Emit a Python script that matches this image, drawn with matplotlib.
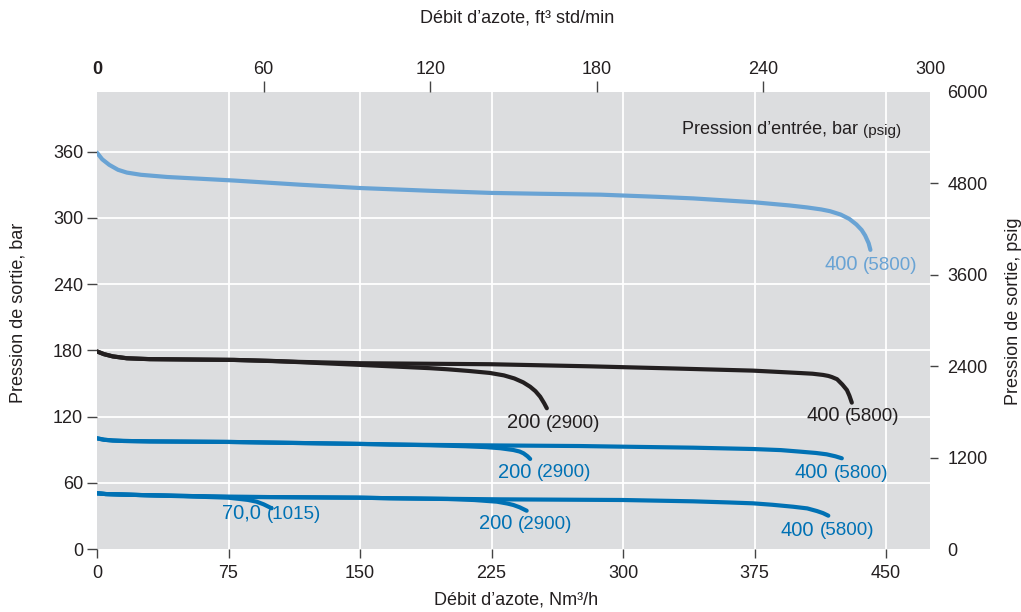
import matplotlib.pyplot as plt

plt.rcParams['font.family'] = ['Liberation Sans', 'DejaVu Sans']

# Outlet pressure (bar) vs nitrogen flow (Nm3/h), one curve per inlet pressure

# set 1: outlet ~360 bar, inlet 400 bar
lb400_x = [0, 3, 7, 12, 17, 25, 40, 78, 116, 150, 190, 224, 253, 287, 320, 340, 374,
           395, 405, 413, 418, 424, 429, 433, 436, 438, 440, 441]
lb400_y = [359, 353, 348, 343.5, 341, 339, 337, 333.8, 330, 327, 324.5, 322.6, 321.8,
           321, 319, 317.6, 314.2, 311.2, 309.4, 307.6, 306, 303, 299, 294, 289,
           284, 277, 271]

# set 2: outlet ~180 bar, inlet 400 and 200 bar
k400_x = [0, 4, 9, 17, 30, 78, 116, 150, 224, 281, 330, 374, 400, 408, 414, 417,
          419, 422, 425, 427.6, 429, 430.4]
k400_y = [179, 176.5, 174.5, 172.8, 172, 171.3, 169.5, 168.3, 167.4, 165.5, 163.5,
          161.6, 159.5, 158.8, 157.7, 156.8, 155.8, 153.8, 149, 144, 139, 132.6]
k200_x = [0, 4, 9, 17, 30, 78, 100, 150, 190, 200, 212, 224, 232, 238, 243, 247,
          250, 252.7, 255, 256.5]
k200_y = [179, 176.5, 174.5, 172.8, 172, 171.3, 170.4, 166.8, 163.8, 162.8, 161.3,
          159.5, 157.3, 154.5, 151, 147, 143, 138, 132, 127.5]

# set 3: outlet ~100 bar, inlet 400 and 200 bar
b100_400_x = [0, 4, 9, 15, 30, 75, 150, 167, 230, 275, 300, 340, 374, 390, 401,
              410, 416, 421, 424.7]
b100_400_y = [100.3, 99, 98.3, 97.9, 97.5, 97, 95.2, 94.6, 93.8, 93.3, 92.7, 91.8,
              90.6, 89.6, 88.2, 87, 85.8, 84, 82.2]
b100_200_x = [0, 4, 9, 15, 30, 75, 150, 161, 190, 210, 222, 230, 237.4, 241, 243.2,
              245.5, 247]
b100_200_y = [100.3, 99, 98.3, 97.9, 97.5, 97, 95.2, 95, 94, 93.1, 92.3, 91.3, 89.7,
              88.3, 86.7, 84, 81.6]

# set 4: outlet ~50 bar, inlet 400, 200 and 70 bar
b50_400_x = [0, 5, 24.5, 75, 150, 167, 230, 300, 340, 360, 374, 385, 397, 405,
             410.5, 414, 417]
b50_400_y = [50.5, 49.8, 48.9, 47.3, 46.5, 46, 45, 44.4, 43.2, 42.2, 41.4, 40.1,
             38.3, 36.8, 34.4, 32.5, 30.2]
b50_200_x = [0, 5, 24.5, 75, 150, 167, 200, 215, 228, 234, 237.4, 241, 245]
b50_200_y = [50.5, 49.8, 48.9, 47.3, 46.5, 46, 45.3, 44.4, 42.9, 41.2, 39.9, 37.8, 34.7]
b50_70_x = [0, 5, 24.5, 60, 75, 81.6, 86, 91, 95, 99.6]
b50_70_y = [50.5, 49.8, 48.9, 47.3, 46.5, 45.3, 44.5, 42.9, 40.5, 36.9]

# inlet pressure labels: bar (psig)
lab_bar = ['400', '400', '200', '200', '400', '70,0', '200', '400']
lab_psig = ['(5800)', '(5800)', '(2900)', '(2900)', '(5800)', '(1015)', '(2900)', '(5800)']

x_ticks = [0, 75, 150, 225, 300, 375, 450]
y_ticks = [0, 60, 120, 180, 240, 300, 360]
top_ticks = [0, 60, 120, 180, 240, 300]
right_ticks = [0, 1200, 2400, 3600, 4800, 6000]

LIGHT = '#69a3d4'
BLACK = '#231f20'
BLUE = '#0071b4'
TXT = '#231f20'

fig = plt.figure(figsize=(10.21, 6.12), dpi=100)
ax = fig.add_axes([0.0950, 0.1029, 0.8159, 0.7468])
ax.set_facecolor('#dcdddf')
ax.set_xlim(0, 475)
ax.set_ylim(0, 414)
ax.set_axisbelow(True)
ax.grid(True, color='white', linewidth=1.3)
for s in ax.spines.values():
    s.set_visible(False)

curves = [
    (lb400_x, lb400_y, LIGHT),
    (k400_x, k400_y, BLACK),
    (k200_x, k200_y, BLACK),
    (b100_400_x, b100_400_y, BLUE),
    (b100_200_x, b100_200_y, BLUE),
    (b50_400_x, b50_400_y, BLUE),
    (b50_200_x, b50_200_y, BLUE),
    (b50_70_x, b50_70_y, BLUE),
]
for xs, ys, c in curves:
    ax.plot(xs, ys, color=c, lw=3.0, solid_capstyle='round', solid_joinstyle='round')

# curve labels
lab_pos = [(414.6, 257.4), (404.4, 120.5), (233.8, 114.5), (228.7, 69.5),
           (398, 69.2), (71.3, 32.3), (217.9, 22.7), (390, 17.2)]
lab_col = [LIGHT, BLACK, BLACK, BLUE, BLUE, BLUE, BLUE, BLUE]
for (x, y), big, small, c in zip(lab_pos, lab_bar, lab_psig, lab_col):
    t = ax.text(x, y, big, color=c, fontsize=14.5, ha='left', va='center')
    ax.annotate(small, xy=(1, 0.5), xycoords=t, xytext=(4, -0.5), textcoords='offset points',
                color=c, fontsize=13.5, ha='left', va='center')

t = ax.text(458.6, 378.9, '(psig)', color=TXT, fontsize=11, ha='right', va='center')
ax.annotate('Pression d\u2019entrée, bar', xy=(0, 0), xycoords=t, xytext=(-4, 0),
            textcoords='offset points', color=TXT, fontsize=13, ha='right', va='bottom')

# bottom / left axes
ax.set_xticks(x_ticks)
ax.set_yticks(y_ticks)
ax.tick_params(axis='x', direction='out', length=6.5, width=1, color='#444',
               pad=5, labelsize=13, labelcolor=TXT)
ax.tick_params(axis='y', direction='out', length=7, width=1, color='#444',
               pad=3, labelsize=13, labelcolor=TXT)
ax.xaxis.get_major_ticks()[0].tick1line.set_visible(False)
ax.yaxis.get_major_ticks()[0].tick1line.set_visible(False)
ax.xaxis.get_major_ticks()[0].gridline.set_visible(False)
ax.yaxis.get_major_ticks()[0].gridline.set_visible(False)

# top axis in ft3 std/min
axt = ax.twiny()
axt.set_xlim(0, 300)
axt.set_xticks(top_ticks)
axt.tick_params(axis='x', direction='out', length=8, width=1, color='#444',
                pad=2, labelsize=13, labelcolor=TXT)
tt = axt.xaxis.get_major_ticks()
tt[0].tick2line.set_visible(False)
tt[-1].tick2line.set_visible(False)
axt.get_xticklabels()[0].set_fontweight('bold')

# right axis in psig
axr = ax.twinx()
axr.set_ylim(0, 6000)
axr.set_yticks(right_ticks)
axr.tick_params(axis='y', direction='out', length=6, width=1, color='#444',
                pad=6.5, labelsize=13, labelcolor=TXT)
rt = axr.yaxis.get_major_ticks()
rt[0].tick2line.set_visible(False)
rt[-1].tick2line.set_visible(False)

for a in (axt, axr):
    for s in a.spines.values():
        s.set_visible(False)

fig.text(517 / 1021, 1 - 18 / 612, 'Débit d\u2019azote, ft³ std/min', fontsize=13,
         color=TXT, ha='center', va='center')
fig.text(516 / 1021, 1 - 600 / 612, 'Débit d\u2019azote, Nm³/h', fontsize=13,
         color=TXT, ha='center', va='center')
fig.text(18 / 1021, 1 - 313 / 612, 'Pression de sortie, bar', fontsize=13,
         color=TXT, ha='center', va='center', rotation=90)
fig.text(1013 / 1021, 1 - 311 / 612, 'Pression de sortie, psig', fontsize=13,
         color=TXT, ha='center', va='center', rotation=90)

fig.savefig('out.png', dpi=100)
